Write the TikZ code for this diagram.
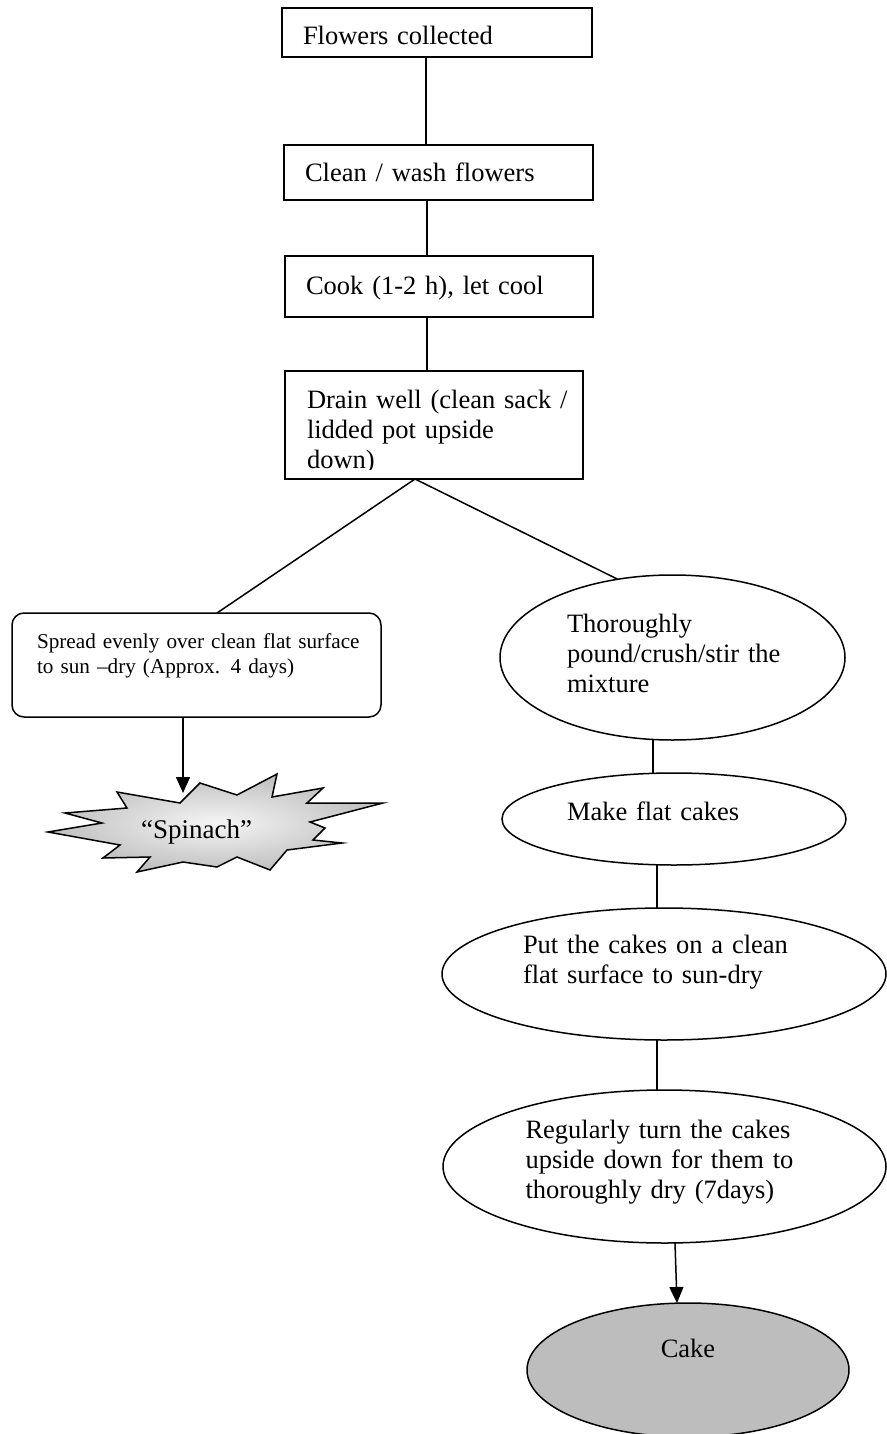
\documentclass[tikz,border=0pt]{standalone}
\usepackage{fontspec}
\setmainfont{Liberation Serif}
\usetikzlibrary{shapes.geometric,arrows.meta}
\definecolor{cakegray}{gray}{0.74}
\begin{document}
\begin{tikzpicture}[x=1pt,y=-1pt,
  conn/.style={line width=1.5pt,draw=black},
  arr/.style={conn,-{Triangle[length=16pt,width=14pt]}},
  rectbox/.style={draw=black,line width=1.5pt,rectangle,inner sep=0pt,outer sep=0pt,align=left,font=\fontsize{26.5}{30}\selectfont},
  ovalbox/.style={draw=black,line width=1.5pt,ellipse,inner sep=0pt,outer sep=0pt,align=left,font=\fontsize{26.5}{30}\selectfont},
  burst/.style={draw=black,line width=1.5pt,inner color=gray!8,outer color=gray!50},
]
\useasboundingbox (0,0) rectangle (886,1434);

% top boxes
\node[rectbox, minimum width=310, minimum height=49, text width=268, text height=25pt, text depth=0pt] (flowers) at (437,32.5) {\mbox{Flowers collected}};
\node[rectbox, minimum width=309, minimum height=55, text width=267, text height=19pt, text depth=0pt] (wash) at (438.5,172.5) {\mbox{Clean / wash flowers}};
\node[rectbox, minimum width=308, minimum height=61, text width=266, text height=18pt, text depth=3pt] (cook) at (439,286.5) {\mbox{Cook (1-2 h), let cool}};

\node[rectbox, minimum width=298, minimum height=108] (drain) at (434,425) {};
\begin{scope}
  \clip (drain.north west) rectangle ([yshift=10pt]drain.south east);
  \node[rectbox, draw=none, text width=254, text height=18pt, text depth=52pt] (draintext) at (drain.center) {\mbox{Drain well (clean sack /}\\ \mbox{lidded pot upside}\\ \mbox{down)}};
\end{scope}

% left branch
\node[rectbox, rounded corners=12pt, minimum width=369, minimum height=104, text width=319, text height=15pt, text depth=49pt, font=\fontsize{21.2}{25}\selectfont] (spread) at (196.5,665) {\mbox{Spread evenly over clean flat surface}\\ \mbox{to sun \textendash dry (Approx. 4 days)}};

\shadedraw[burst] (48,832) -- (102,823) -- (65,813) -- (127,808) -- (117,792) -- (180,803) -- (200,783) -- (237,795) -- (277,774) -- (272,797) -- (323,788) -- (307,803) -- (383,803) -- (310,822) -- (325,828) -- (313,840) -- (342,843) -- (287,850) -- (270,870) -- (237,857) -- (217,867) -- (183,862) -- (137,872) -- (150,857) -- (103,858) -- (120,845) -- cycle;
\node[font=\fontsize{27}{30}\selectfont, anchor=base, inner sep=0pt] (spinach) at (196.5,838) {“Spinach”};
\coordinate (burst) at (183,793);

% right branch
\node[ovalbox, minimum width=345, minimum height=165, text width=211, text height=18pt, text depth=69pt] (pound) at (672.5,657.5) {\mbox{Thoroughly}\\ \mbox{pound/crush/stir the}\\ \mbox{mixture}};
\node[ovalbox, minimum width=344, minimum height=92, text width=214, text height=18pt, text depth=16pt] (flat) at (674,819) {\mbox{Make flat cakes}};
\node[ovalbox, minimum width=444, minimum height=132, text width=282, text height=18pt, text depth=60pt] (put) at (664,974) {\mbox{Put the cakes on a clean}\\ \mbox{flat surface to sun-dry}};
\node[ovalbox, minimum width=443, minimum height=153, text width=278, text height=18pt, text depth=75pt] (turn) at (664.5,1166.5) {\mbox{Regularly turn the cakes}\\ \mbox{upside down for them to}\\ \mbox{thoroughly dry (7days)}};
\node[ovalbox, fill=cakegray, align=center, minimum width=322, minimum height=134, text height=18pt, text depth=44pt] (cake) at (688,1370) {Cake};

% x positions of connectors
\coordinate (xa) at (426,0);
\coordinate (xb) at (427,0);
\coordinate (xd) at (415,0);
\coordinate (xl) at (217,0);
\coordinate (xs) at (183,0);
\coordinate (xp) at (653,0);
\coordinate (xq) at (657,0);
\coordinate (xt) at (675,0);
\coordinate (xc) at (677,0);

\draw[conn] (flowers.south -| xa) -- (wash.north -| xa);
\draw[conn] (wash.south -| xb) -- (cook.north -| xb);
\draw[conn] (cook.south -| xb) -- (drain.north -| xb);
\draw[conn] (drain.south -| xd) -- (spread.north -| xl);
\draw[conn] (drain.south -| xd) -- (pound.125);
\draw[arr] (spread.south -| xs) -- (burst);
\draw[conn] (pound.south -| xp) -- (flat.north -| xp);
\draw[conn] (flat.south -| xq) -- (put.north -| xq);
\draw[conn] (put.south -| xq) -- (turn.north -| xq);
\draw[arr] (turn.south -| xt) -- (cake.north -| xc);
\end{tikzpicture}
\end{document}
